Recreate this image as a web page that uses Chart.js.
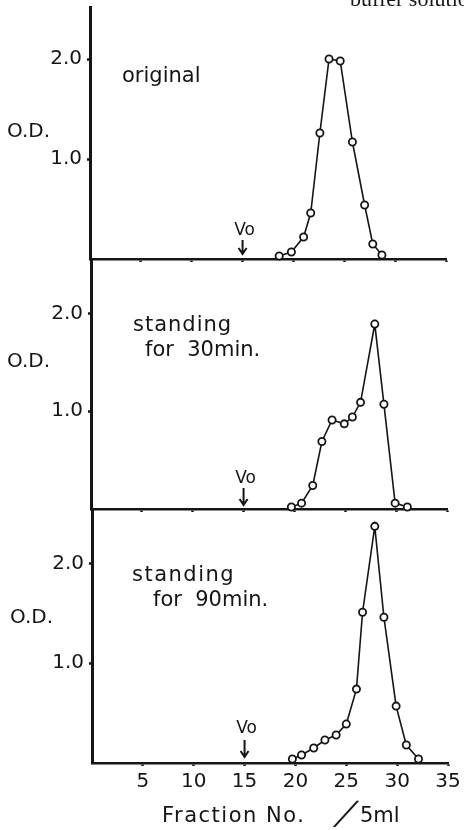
<!DOCTYPE html>
<html>
<head>
<meta charset="utf-8">
<script src="https://cdn.jsdelivr.net/npm/chart.js@4.4.1/dist/chart.umd.min.js"></script>
<style>
  html, body { margin: 0; padding: 0; background: #fff; }
  #wrap { position: relative; width: 464px; height: 830px; overflow: hidden; background: #fff; }
  canvas { position: absolute; left: 0; }
</style>
</head>
<body>
<div id="wrap">
  <canvas id="c1" width="464" height="275" style="top:0px"></canvas>
  <canvas id="c2" width="464" height="275" style="top:250px"></canvas>
  <canvas id="c3" width="464" height="330" style="top:500px"></canvas>
</div>
<script>
// ---- data ----
const xTickValues = [5, 10, 15, 20, 25, 30, 35];
const yTickValues = [1, 2];
const voFraction = 15;

const originalFraction = [18.6, 19.8, 21.0, 21.7, 22.6, 23.5, 24.6, 25.8, 27.0, 27.8, 28.7];
const originalOD       = [0.03, 0.07, 0.22, 0.46, 1.26, 2.00, 1.98, 1.17, 0.54, 0.15, 0.04];

const min30Fraction = [19.7, 20.7, 21.8, 22.7, 23.7, 24.9, 25.7, 26.5, 27.9, 28.8, 29.9, 31.1];
const min30OD       = [0.02, 0.06, 0.24, 0.69, 0.91, 0.87, 0.94, 1.09, 1.89, 1.07, 0.06, 0.02];

const min90Fraction = [19.7, 20.6, 21.8, 22.9, 24.0, 25.0, 26.0, 26.6, 27.8, 28.7, 29.9, 30.9, 32.1];
const min90OD       = [0.04, 0.08, 0.15, 0.23, 0.28, 0.39, 0.74, 1.51, 2.37, 1.46, 0.57, 0.18, 0.04];

const axisTitle = "Fraction No.";
const axisUnit = "5ml";
const yTitle = "O.D.";

// ---- helpers ----
const INK = '#151515';
const FONT = '"DejaVu Sans", sans-serif';

function pts(xs, ys) { return xs.map((x, i) => ({ x: x, y: ys[i] })); }

function annotations(opts) {
  return {
    id: 'ann',
    afterDraw(chart) {
      const ctx = chart.ctx;
      const xs = chart.scales.x;
      const bottom = chart.chartArea.bottom;
      ctx.save();
      ctx.fillStyle = INK;
      ctx.strokeStyle = INK;
      opts.texts.forEach(t => {
        ctx.font = t.font;
        ctx.letterSpacing = t.ls || '0px';
        ctx.textAlign = 'left';
        ctx.textBaseline = 'alphabetic';
        ctx.fillText(t.text, t.x, t.y);
      });
      ctx.letterSpacing = '0px';
      // Vo marker at the void volume fraction
      const vx = xs.getPixelForValue(voFraction);
      ctx.font = '17px ' + FONT;
      ctx.textAlign = 'center';
      ctx.fillText('Vo', vx + 2, bottom - opts.vo.text);
      ctx.lineWidth = 2;
      ctx.beginPath();
      ctx.moveTo(vx, bottom - opts.vo.top);
      ctx.lineTo(vx, bottom - opts.vo.tip);
      ctx.moveTo(vx - 4, bottom - opts.vo.tip - 6);
      ctx.lineTo(vx, bottom - opts.vo.tip);
      ctx.lineTo(vx + 4, bottom - opts.vo.tip - 6);
      ctx.stroke();
      if (opts.extra) opts.extra(ctx, chart);
      ctx.restore();
    }
  };
}

function makeChart(id, data, cfg) {
  return new Chart(document.getElementById(id), {
    type: 'line',
    data: {
      datasets: [{
        data: data,
        borderColor: INK,
        borderWidth: 1.6,
        pointRadius: 3.6,
        pointHoverRadius: 3.6,
        pointBorderWidth: 1.8,
        pointBackgroundColor: '#fff',
        pointBorderColor: INK,
        tension: 0,
        clip: false
      }]
    },
    options: {
      responsive: false,
      animation: false,
      devicePixelRatio: 1,
      layout: { padding: { top: cfg.top, right: cfg.right, left: 0, bottom: 0 } },
      plugins: { legend: { display: false }, tooltip: { enabled: false } },
      scales: {
        x: {
          type: 'linear',
          min: 0, max: 35,
          afterFit: s => { s.height = cfg.xh; s.paddingLeft = 0; s.paddingRight = 0; },
          afterBuildTicks: s => { s.ticks = xTickValues.map(v => ({ value: v })); },
          ticks: {
            display: cfg.showX,
            padding: 4,
            color: INK,
            font: { family: FONT, size: 20 },
            callback: v => String(v)
          },
          grid: { drawOnChartArea: false, drawTicks: true, tickLength: 3, tickWidth: 2.5, tickColor: INK },
          border: { display: true, color: INK, width: 2.5 }
        },
        y: {
          min: 0, max: cfg.ymax,
          afterFit: s => { s.width = cfg.left; s.paddingTop = 0; s.paddingBottom = 0; },
          afterBuildTicks: s => { s.ticks = yTickValues.map(v => ({ value: v })); },
          ticks: {
            padding: 5,
            color: INK,
            font: { family: FONT, size: 20 },
            callback: v => v.toFixed(1)
          },
          grid: { drawOnChartArea: false, drawTicks: true, tickLength: 3, tickWidth: 2.5, tickColor: INK },
          border: { display: true, color: INK, width: 3 }
        }
      }
    },
    plugins: [annotations(cfg.ann)]
  });
}

// Panel 1: original
makeChart('c1', pts(originalFraction, originalOD), {
  top: 7, right: 18, left: 90, xh: 16, ymax: 2.52, showX: false,
  ann: {
    texts: [
      { text: 'original', x: 122, y: 82, font: '21px ' + FONT },
      { text: yTitle, x: 7, y: 137, font: '20px ' + FONT },
      { text: 'buffer solution', x: 350, y: 6, font: '22px "Liberation Serif", serif' }
    ],
    vo: { text: 24, top: 19, tip: 5 }
  }
});

// Panel 2: standing for 30 min
makeChart('c2', pts(min30Fraction, min30OD), {
  top: 9, right: 17, left: 91, xh: 16, ymax: 2.555, showX: false,
  ann: {
    texts: [
      { text: 'standing', x: 133, y: 81, font: '21px ' + FONT, ls: '1px' },
      { text: 'for  30min.', x: 145, y: 106, font: '21px ' + FONT },
      { text: yTitle, x: 7, y: 117, font: '20px ' + FONT }
    ],
    vo: { text: 26, top: 21, tip: 4 }
  }
});

// Panel 3: standing for 90 min
makeChart('c3', pts(min90Fraction, min90OD), {
  top: 9, right: 16, left: 92, xh: 67, ymax: 2.544, showX: true,
  ann: {
    texts: [
      { text: 'standing', x: 132, y: 81, font: '21px ' + FONT, ls: '1.5px' },
      { text: 'for  90min.', x: 153, y: 106, font: '21px ' + FONT },
      { text: yTitle, x: 10, y: 123, font: '20px ' + FONT },
      { text: axisTitle, x: 162, y: 322, font: '21px ' + FONT, ls: '1.5px' },
      { text: axisUnit, x: 360, y: 322, font: '21px ' + FONT }
    ],
    vo: { text: 30, top: 23, tip: 6 },
    extra: (ctx) => {
      // large slanted slash before the unit, as text
      ctx.save();
      ctx.font = '32px ' + FONT;
      ctx.textAlign = 'center';
      ctx.textBaseline = 'alphabetic';
      ctx.translate(340, 324);
      ctx.transform(1, 0, -0.6, 1, 0, 0);
      ctx.fillText('/', 0, 0);
      ctx.restore();
    }
  }
});
</script>
</body>
</html>
